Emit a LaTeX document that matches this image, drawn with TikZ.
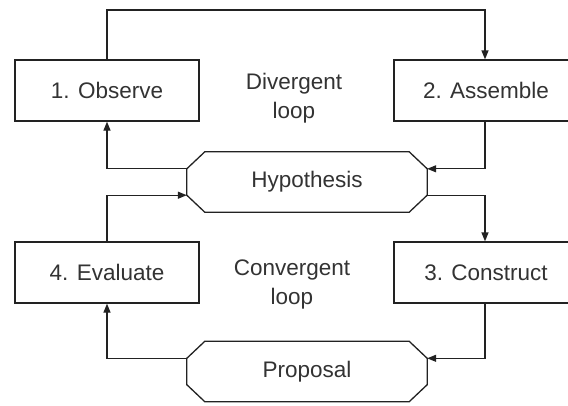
\documentclass[tikz,border=0pt]{standalone}
\usepackage{fontspec}
\setmainfont{Liberation Sans}
\usetikzlibrary{arrows.meta,calc}
\definecolor{ink}{HTML}{222222}
\definecolor{txt}{HTML}{333333}
\tikzset{
  stagebox/.style={draw=ink, line width=1.3pt, minimum width=184pt, minimum height=61pt,
    inner sep=0pt, font=\fontsize{22.5}{27}\selectfont, text=txt},
  hubbox/.style={minimum width=240pt, minimum height=60pt, inner sep=0pt,
    font=\fontsize{22.5}{27}\selectfont, text=txt},
  hubline/.style={draw=ink, line width=1.3pt, line join=miter},
  looplabel/.style={align=center, font=\fontsize{22.5}{29}\selectfont, text=txt},
  flow/.style={draw=ink, line width=1.3pt, -{Triangle[length=9pt,width=7pt]}},
}
\begin{document}
\begin{tikzpicture}[x=1pt,y=-1pt]
\useasboundingbox (0,0) rectangle (568,405);
\clip (0,0) rectangle (568,405);
\fill[white] (0,0) rectangle (568,405);

% four stages
\node[stagebox] (obs) at (107,90.5) {1. Observe};
\node[stagebox] (asm) at (486,90.5) {2. Assemble};
\node[stagebox] (eva) at (107,272.5) {4. Evaluate};
\node[stagebox] (con) at (486,272.5) {3. Construct};

% loop captions
\node[looplabel] (div) at (294,98) {Divergent\\loop};
\node[looplabel] (cnv) at (292,284) {Convergent\\loop};

% chamfered hubs
\node[hubbox] (hyp) at (307,182) {Hypothesis};
\node[hubbox] (pro) at (307,371.5) {Proposal};
\foreach \h in {hyp,pro}{
  \draw[hubline] ($(\h.north west)+(18,0)$) -- ($(\h.north east)+(-18,0)$)
    -- ($(\h.north east)+(0,17)$) -- ($(\h.south east)+(0,-17)$)
    -- ($(\h.south east)+(-18,0)$) -- ($(\h.south west)+(18,0)$)
    -- ($(\h.south west)+(0,-17)$) -- ($(\h.north west)+(0,17)$) -- cycle;
  \coordinate (\h-ru) at ($(\h.north east)+(0,17)$);
  \coordinate (\h-rl) at ($(\h.south east)+(0,-17)$);
  \coordinate (\h-lu) at ($(\h.north west)+(0,17)$);
  \coordinate (\h-ll) at ($(\h.south west)+(0,-17)$);
}

% connectors
\draw[flow] (obs.north) |- (485,10) -| (asm.north -| 485,0);
\draw[flow] (asm.south -| 485,0) |- (hyp-ru);
\draw[flow] (hyp-rl) -| (con.north -| 485,0);
\draw[flow] (con.south -| 485,0) |- (pro-ru);
\draw[flow] (pro-lu) -| (eva.south);
\draw[flow] (eva.north) |- (hyp-ll);
\draw[flow] (hyp-lu) -| (obs.south);
\end{tikzpicture}
\end{document}
